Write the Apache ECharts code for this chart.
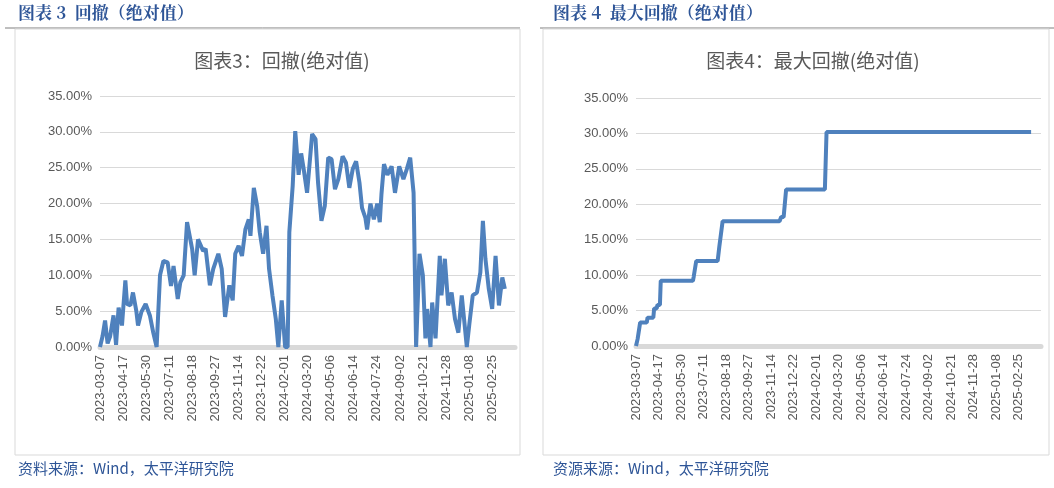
<!DOCTYPE html>
<html><head><meta charset="utf-8">
<script src="https://cdn.jsdelivr.net/npm/echarts@6/dist/echarts.min.js"></script>
<style>html,body{margin:0;padding:0;background:#fff}#c{width:1054px;height:488px}</style>
</head><body><div id="c"></div>
<script>
const tickLabels = ["2023-03-07","2023-04-17","2023-05-30","2023-07-11","2023-08-18","2023-09-27","2023-11-14","2023-12-22","2024-02-01","2024-03-20","2024-05-06","2024-06-14","2024-07-24","2024-09-02","2024-10-21","2024-11-28","2025-01-08","2025-02-25"];
// trading-day index since 2023-03-07
const ddDays = [0,3,6,9,12,16,19,22,26,30,32,36,39,43,45,49,54,59,63,67,71,75,80,84,87,92,95,99,103,109,112,116,122,125,130,134,140,144,148,153,157,160,164,168,172,176,178,182,186,189,193,197,200,204,208,211,215,219,222,224,228,231,235,238,241,245,251,255,258,262,266,270,274,278,282,287,291,295,299,303,307,310,314,316,320,324,328,331,333,336,340,345,349,354,359,363,367,371,374,378,382,385,387,391,393,397,402,404,408,412,416,420,424,428,434,437,441,446,450,453,456,460,464,468,472,476,479];
const drawdown = [0,1.5,3.7,0.5,1.5,4.4,0.3,5.5,3,9.3,6,5.8,7.6,5,3,4.9,6,4.4,2,0,10,12,11.8,8.5,11.3,6.7,9,10,17.4,13.7,10,15,13.4,13.7,8.6,10.9,13,10.9,4.2,8.6,6.5,13,14.1,12.7,16.4,17.8,15.5,22.2,19.6,16,13,16.9,10.9,7.2,3.9,0,6.5,0,0,16,22.5,30.1,24,27,24.8,21.5,29.7,29,22.9,17.6,19.7,26.4,26.2,22,23.4,26.6,25.7,22.2,24.8,25.9,22.9,19.4,18,16.4,20,17.8,20,17.4,21.3,25.5,24,25.2,21.5,25.2,23.4,24.8,26.4,21.5,0,13,10,1.2,5.3,0,6.2,1.2,12.7,7.2,12.3,5.8,7.6,3.9,2,7.2,0,3.2,7.2,7.6,10.4,17.6,12.3,8.1,5.3,12.7,5.8,9.7,8.1];
const mddDays = [0,2,5,13,14,21,22,25,26,29,30,32,69,70,73,99,101,102,105,174,176,179,182,229,231,479];
const maxDrawdown = [0,1,3.3,3.3,4.0,4.0,5.3,5.3,5.8,5.8,9.2,9.2,9.2,9.8,12,12,14,14,17.6,17.6,18.2,18.2,22.1,22.1,30.2,30.2];

const blue = '#4f81bd', gray = '#595959';
const STEP = 27.3;
const zip = (a,b)=>a.map((d,i)=>[d,b[i]]);
const xAx = gi => ({type:'value',gridIndex:gi,min:0,max:491,interval:STEP,
  axisLine:{show:true,lineStyle:{color:'#d9d9d9',width:5}},axisTick:{show:false},splitLine:{show:false},
  axisLabel:{rotate:90,color:gray,fontSize:13,fontFamily:'Liberation Sans',margin:8,
    formatter:v=>{const i=Math.round(v/STEP);return (Math.abs(v-i*STEP)<0.01&&tickLabels[i])?tickLabels[i]:'';}}});
const yAx = gi => ({type:'value',gridIndex:gi,min:0,max:35,interval:5,
  axisLine:{show:false},axisTick:{show:false},splitLine:{lineStyle:{color:'#d9d9d9',width:1}},
  axisLabel:{color:gray,fontSize:13,fontFamily:'Liberation Sans',formatter:v=>v.toFixed(2)+'%'}});
const hdr = {fontFamily:'Noto Serif CJK SC, Noto Sans CJK SC',fontSize:17,fontWeight:'bold',fill:'#2e5597'};
const foot = {fontFamily:'Noto Sans CJK SC',fontSize:15,fill:'#2e5597'};
const chart = echarts.init(document.getElementById('c'));
chart.setOption({
  animation:false,
  title:[
    {text:'图表3：回撤(绝对值)',left:277,top:46,textAlign:'center',textStyle:{color:gray,fontSize:19,fontWeight:'normal',fontFamily:'Noto Sans CJK SC'}},
    {text:'图表4：最大回撤(绝对值)',left:808,top:46,textAlign:'center',textStyle:{color:gray,fontSize:19,fontWeight:'normal',fontFamily:'Noto Sans CJK SC'}}
  ],
  grid:[{left:100,top:96,width:415,height:251},{left:636,top:98,width:405,height:248}],
  xAxis:[xAx(0),xAx(1)], yAxis:[yAx(0),yAx(1)],
  series:[
    {type:'line',xAxisIndex:0,yAxisIndex:0,data:zip(ddDays,drawdown),showSymbol:false,lineStyle:{color:blue,width:4},itemStyle:{color:blue}},
    {type:'line',xAxisIndex:1,yAxisIndex:1,data:zip(mddDays,maxDrawdown),showSymbol:false,lineStyle:{color:blue,width:4},itemStyle:{color:blue}}
  ],
  graphic:[
    {type:'text',left:18,top:4,style:Object.assign({text:'图表 3  回撤（绝对值）'},hdr)},
    {type:'text',left:553,top:4,style:Object.assign({text:'图表 4  最大回撤（绝对值）'},hdr)},
    {type:'line',shape:{x1:5,y1:28,x2:520,y2:28},style:{stroke:'#7f7f7f',lineWidth:1}},
    {type:'line',shape:{x1:540,y1:28,x2:1054,y2:28},style:{stroke:'#7f7f7f',lineWidth:1}},
    {type:'rect',shape:{x:15,y:29,width:505,height:426},style:{fill:'none',stroke:'#d9d9d9',lineWidth:1}},
    {type:'rect',shape:{x:543,y:29,width:506,height:426},style:{fill:'none',stroke:'#d9d9d9',lineWidth:1}},
    {type:'text',left:18,top:461,style:Object.assign({text:'资料来源：Wind，太平洋研究院'},foot)},
    {type:'text',left:553,top:461,style:Object.assign({text:'资源来源：Wind，太平洋研究院'},foot)}
  ]
});
</script></body></html>
